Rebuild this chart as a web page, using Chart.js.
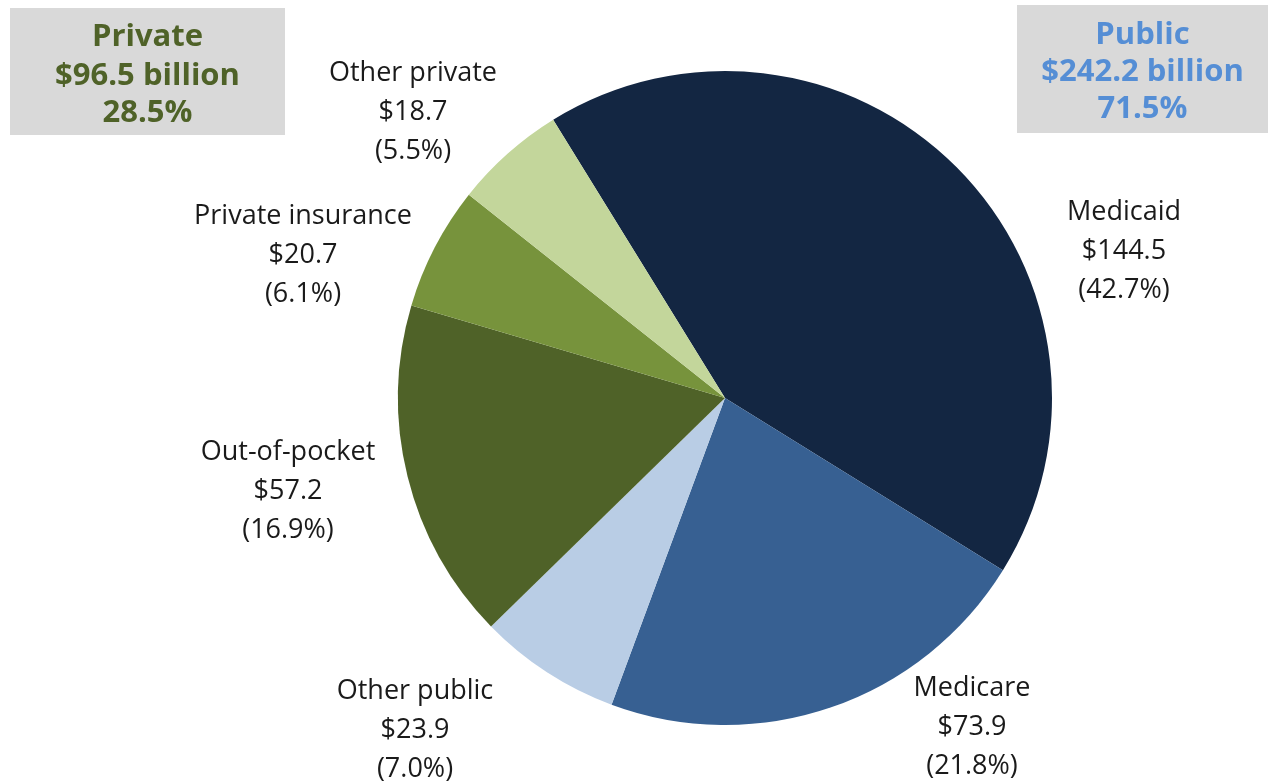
<!DOCTYPE html>
<html>
<head>
<meta charset="utf-8">
<script src="https://cdn.jsdelivr.net/npm/chart.js@4/dist/chart.umd.min.js"></script>
<style>
    html, body { margin: 0; padding: 0; background: #ffffff; }
    #wrap { width: 1273px; height: 784px; position: relative; }
</style>
</head>
<body>
<div id="wrap"><canvas id="spendChart" width="1273" height="784"></canvas></div>
<script>
// values in billions, clockwise from the Medicaid slice
const categories = ['Medicaid', 'Medicare', 'Other public', 'Out-of-pocket', 'Private insurance', 'Other private'];
const amounts = [144.5, 73.9, 23.9, 57.2, 20.7, 18.7];
const shares = ['42.7%', '21.8%', '7.0%', '16.9%', '6.1%', '5.5%'];
const sliceColors = ['#132642', '#376092', '#b9cde5', '#4f6228', '#77933c', '#c3d69b'];

// group summary boxes
const privateBox = ['Private', '$96.5 billion', '28.5%'];
const publicBox = ['Public', '$242.2 billion', '71.5%'];

// where each slice label sits (centre x, middle of first line)
const labelPos = [
    [1124, 212], [972, 688], [415, 691], [288, 452], [303, 216], [413, 73]
];

const annotate = {
    id: 'annotate',
    afterDraw(chart) {
        const ctx = chart.ctx;
        ctx.save();
        ctx.textAlign = 'center';
        ctx.textBaseline = 'middle';

        // slice labels
        ctx.fillStyle = '#1a1a1a';
        ctx.font = '27px "Open Sans", Lato, sans-serif';
        categories.forEach((name, i) => {
            const [x, y] = labelPos[i];
            const lines = [name, '$' + amounts[i].toFixed(1), '(' + shares[i] + ')'];
            lines.forEach((t, j) => ctx.fillText(t, x, y + j * 39));
        });

        // summary boxes
        function box(x, y, w, h, lines, color, ys) {
            ctx.fillStyle = '#d9d9d9';
            ctx.fillRect(x, y, w, h);
            ctx.fillStyle = color;
            ctx.font = 'bold 31px "Open Sans", Lato, sans-serif';
            lines.forEach((t, j) => ctx.fillText(t, x + w / 2, ys[j]));
        }
        box(10, 8, 275, 127, privateBox, '#4f6228', [37, 76, 113]);
        box(1017, 5, 251, 128, publicBox, '#558ed5', [35, 72, 109]);

        ctx.restore();
    }
};

const ctx = document.getElementById('spendChart').getContext('2d');
window.spendChart = new Chart(ctx, {
    type: 'pie',
    data: {
        labels: categories,
        datasets: [{
            data: amounts,
            backgroundColor: sliceColors,
            borderWidth: 0
        }]
    },
    options: {
        responsive: false,
        animation: false,
        rotation: -31.7,
        layout: {
            padding: { top: 71, bottom: 59, left: 398, right: 221 }
        },
        plugins: {
            legend: { display: false },
            tooltip: { enabled: false }
        }
    },
    plugins: [annotate]
});
</script>
</body>
</html>
